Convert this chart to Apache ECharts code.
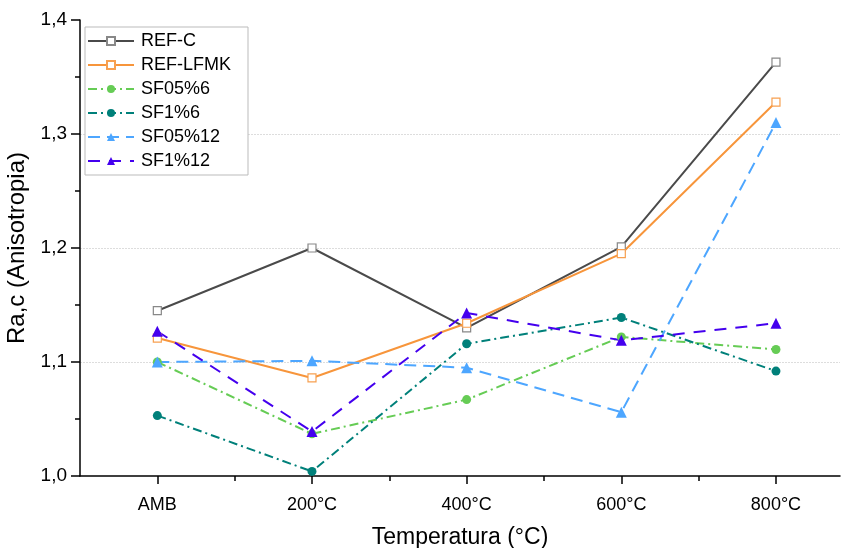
<!DOCTYPE html>
<html>
<head>
<meta charset="utf-8">
<script src="https://cdn.jsdelivr.net/npm/echarts@6/dist/echarts.min.js"></script>
<style>
  html, body { margin: 0; padding: 0; background: #fff; }
  #chart { width: 843px; height: 548px; }
</style>
</head>
<body>
<div id="chart"></div>
<script>
var categories = ['AMB', '200°C', '400°C', '600°C', '800°C'];
var refC = [1.145, 1.200, 1.130, 1.201, 1.363];
var refLfmk = [1.121, 1.086, 1.134, 1.195, 1.328];
var sf05p6 = [1.100, 1.037, 1.067, 1.122, 1.111];
var sf1p6 = [1.053, 1.004, 1.116, 1.139, 1.092];
var sf05p12 = [1.100, 1.101, 1.095, 1.056, 1.310];
var sf1p12 = [1.127, 1.039, 1.143, 1.119, 1.134];

var font = 'Liberation Sans, Arial, sans-serif';

function pairs(arr) {
    return arr.map(function (v, i) { return [i, v]; });
}

var chartDom = document.getElementById('chart');
var chart = echarts.init(chartDom, null, { renderer: 'canvas' });

function makeSeries(name, data, color, dash, symbol, size, hollow, borderColor) {
    return {
        name: name,
        type: 'line',
        data: pairs(data),
        symbol: symbol,
        symbolSize: size,
        showAllSymbol: true,
        lineStyle: { color: color, width: 2, type: dash },
        itemStyle: hollow
            ? { color: '#fff', borderColor: borderColor, borderWidth: 1.2 }
            : { color: color, borderWidth: 0 },
        emphasis: { disabled: true },
        z: 3
    };
}

var option = {
    animation: false,
    textStyle: { fontFamily: font },
    grid: { left: 80, top: 20, right: 3, bottom: 72, outerBoundsMode: 'none' },
    legend: {
        orient: 'vertical',
        left: 85,
        top: 27,
        itemWidth: 46,
        itemHeight: 10,
        itemGap: 6,
        padding: [5, 17, 5, 2],
        borderColor: '#bbb',
        borderWidth: 1,
        backgroundColor: '#fff',
        textStyle: { fontFamily: font, fontSize: 18, lineHeight: 18, color: '#000', padding: [0, 0, 0, 2] },
        data: ['REF-C', 'REF-LFMK', 'SF05%6', 'SF1%6', 'SF05%12', 'SF1%12']
    },
    xAxis: [{
        type: 'value',
        min: -0.5,
        max: 4.414,
        name: 'Temperatura (°C)',
        nameLocation: 'middle',
        nameGap: 50,
        nameTextStyle: { fontSize: 23, color: '#000', fontFamily: font },
        axisLine: { show: true, onZero: false, lineStyle: { color: '#000', width: 1.5 } },
        axisTick: { show: true, customValues: [0, 1, 2, 3, 4], length: 8, lineStyle: { color: '#000', width: 1.5 } },
        axisLabel: {
            customValues: [0, 1, 2, 3, 4],
            margin: 20,
            fontSize: 18,
            color: '#000',
            formatter: function (v) { return categories[Math.round(v)]; }
        },
        splitLine: { show: false }
    }, {
        type: 'value',
        min: -0.5,
        max: 4.414,
        position: 'bottom',
        axisLine: { show: false, onZero: false },
        axisTick: { show: true, customValues: [0.5, 1.5, 2.5, 3.5], length: 5, lineStyle: { color: '#000', width: 1.5 } },
        axisLabel: { show: false },
        splitLine: { show: false }
    }],
    yAxis: {
        type: 'value',
        min: 1.0,
        max: 1.4,
        interval: 0.1,
        name: 'Ra,c (Anisotropia)',
        nameLocation: 'middle',
        nameGap: 46,
        nameTextStyle: { fontSize: 24, color: '#000', fontFamily: font },
        axisLine: { show: true, onZero: false, lineStyle: { color: '#000', width: 1.5 } },
        axisTick: { show: true, length: 9, lineStyle: { color: '#000', width: 1.5 } },
        minorTick: { show: true, splitNumber: 2, length: 5, lineStyle: { color: '#000', width: 1.5 } },
        axisLabel: {
            margin: 13,
            fontSize: 19,
            color: '#000',
            formatter: function (v) { return v.toFixed(1).replace('.', ','); }
        },
        splitLine: { show: true, showMinLine: false, showMaxLine: false, lineStyle: { color: '#ddd', width: 1, type: [2, 1] } }
    },
    series: [
        makeSeries('REF-C', refC, '#4a4a4a', 'solid', 'rect', 8, true, '#888'),
        makeSeries('REF-LFMK', refLfmk, '#f7953b', 'solid', 'rect', 8, true, '#f7a050'),
        makeSeries('SF05%6', sf05p6, '#66cc55', [9, 4, 2, 4], 'circle', 9, false),
        makeSeries('SF1%6', sf1p6, '#00807a', [9, 4, 2, 4], 'circle', 9, false),
        makeSeries('SF05%12', sf05p12, '#4da6ff', [12, 7], 'triangle', 11, false),
        makeSeries('SF1%12', sf1p12, '#4400ee', [12, 9], 'triangle', 11, false)
    ]
};

option && chart.setOption(option);
</script>
</body>
</html>
